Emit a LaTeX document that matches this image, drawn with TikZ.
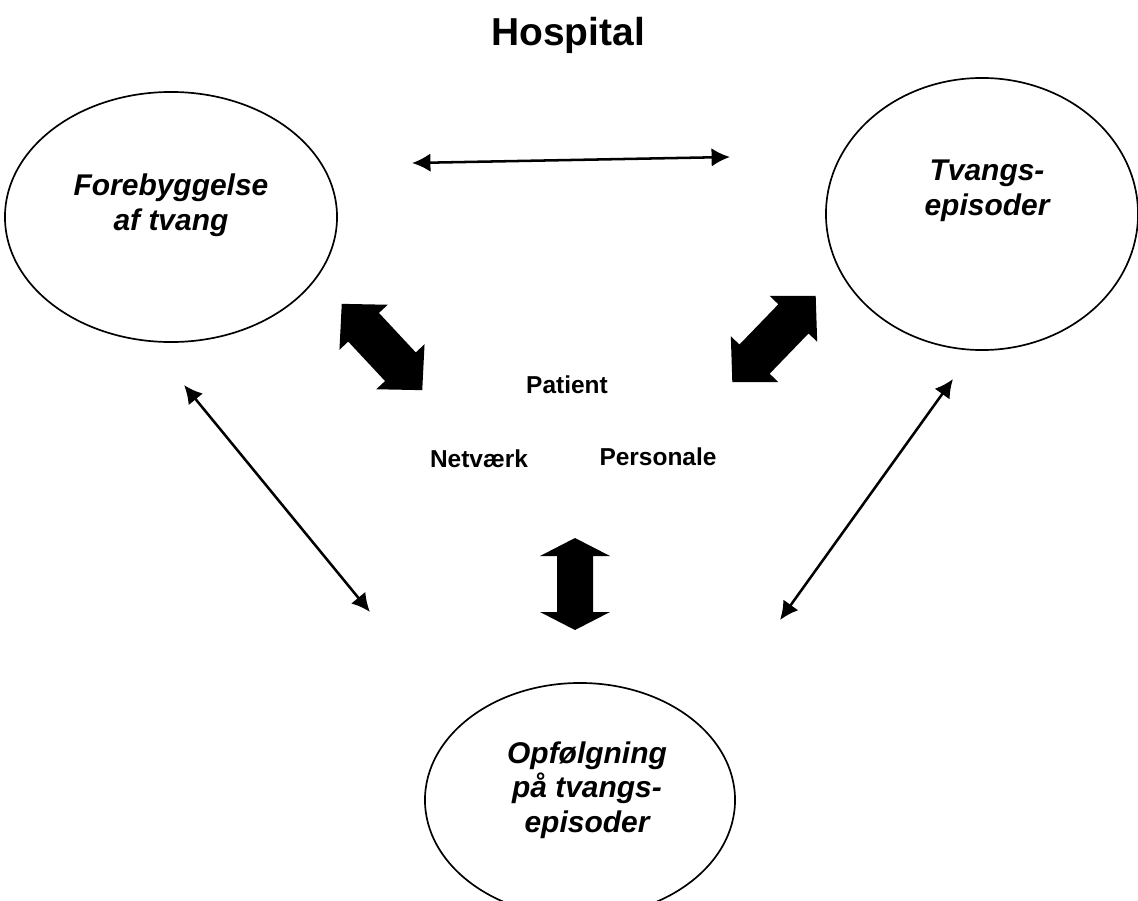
\documentclass[tikz,border=0pt]{standalone}
\usepackage{fontspec}
\setmainfont{Liberation Sans}
\usetikzlibrary{shapes.geometric,arrows.meta}

% fat double arrow: centre, angle, half length, head length, head half width, shaft half width
\newcommand{\fatarrow}[6]{%
  \fill[shift={#1},rotate=#2] (-#3,0) -- (-#3+#4,#5) -- (-#3+#4,#6) -- (#3-#4,#6)
    -- (#3-#4,#5) -- (#3,0) -- (#3-#4,-#5) -- (#3-#4,-#6) -- (-#3+#4,-#6)
    -- (-#3+#4,-#5) -- cycle;}

\begin{document}
\begin{tikzpicture}[x=0.025cm,y=-0.025cm,
  oval/.style={ellipse,draw,line width=1.2pt,inner sep=0pt},
  circtext/.style={align=center,inner sep=0pt,font=\fontsize{21.3}{24.6}\selectfont\bfseries\itshape},
  midtext/.style={inner sep=0pt,font=\fontsize{17.4}{20}\selectfont\bfseries},
  thin/.style={{Latex[length=4.6mm,width=4.6mm]}-{Latex[length=4.6mm,width=4.6mm]},line width=1.8pt}]
\useasboundingbox (0,0) rectangle (1138,901);

\node[inner sep=0pt,font=\fontsize{27.7}{30}\selectfont\bfseries,anchor=base] (hosp) at (568,45) {Hospital};

% the three ovals
\node[oval,minimum width=8.3cm,minimum height=6.25cm] (forb) at (171,217) {};
\node[oval,minimum width=7.8cm,minimum height=6.8cm] (tvang) at (982,214) {};
\node[oval,minimum width=7.75cm,minimum height=5.85cm] (opf) at (580,800) {};

\node[circtext] (forbtxt) at (171,205) {Forebyggelse\\af tvang};
\node[circtext] (tvangtxt) at (987,191) {Tvangs-\\episoder};
\node[circtext] (opftxt) at (587,790) {Opfølgning\\på tvangs-\\episoder};

% middle
\node[midtext,anchor=base] (pat) at (567,393) {Patient};
\node[midtext,anchor=base] (net) at (479,467) {Netværk};
\node[midtext,anchor=base] (pers) at (658,465) {Personale};

% thick arrows
\fatarrow{(382,347)}{-47}{59}{32}{33}{21}
\fatarrow{(774,339)}{46}{60}{32}{33}{21}
\fatarrow{(575,584)}{90}{46}{18}{35}{18}

% thin arrows
\coordinate (t1) at (412,163); \coordinate (t2) at (730,157);
\coordinate (l1) at (184,385); \coordinate (l2) at (370,612);
\coordinate (r1) at (953,379); \coordinate (r2) at (780,620);
\draw[thin] (t1) -- (t2);
\draw[thin] (l1) -- (l2);
\draw[thin] (r1) -- (r2);
\end{tikzpicture}
\end{document}
